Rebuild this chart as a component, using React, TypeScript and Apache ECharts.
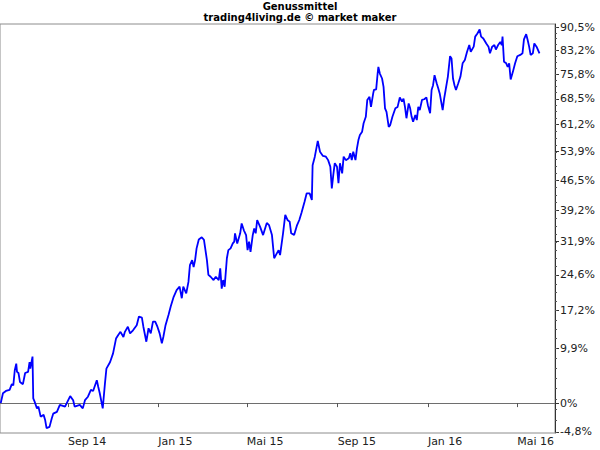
import React, { useEffect, useRef } from "react";
import * as echarts from "echarts";

const dates: string[] = [
  "2014-06-02","2014-06-05","2014-06-09","2014-06-14","2014-06-17","2014-06-19","2014-06-21","2014-06-23","2014-06-24","2014-06-26","2014-06-28",
  "2014-07-02","2014-07-05","2014-07-09","2014-07-11","2014-07-12","2014-07-15","2014-07-16","2014-07-18","2014-07-21","2014-07-23","2014-07-26","2014-07-30",
  "2014-08-01","2014-08-03","2014-08-07","2014-08-10","2014-08-12","2014-08-17","2014-08-21","2014-08-28",
  "2014-09-04","2014-09-08","2014-09-10","2014-09-17","2014-09-21","2014-09-24","2014-09-28",
  "2014-10-02","2014-10-05","2014-10-10","2014-10-12","2014-10-14","2014-10-18","2014-10-21","2014-10-23","2014-10-28",
  "2014-11-01","2014-11-05","2014-11-08","2014-11-11","2014-11-15","2014-11-17","2014-11-21","2014-11-24","2014-11-28",
  "2014-12-03","2014-12-06","2014-12-10","2014-12-12","2014-12-16","2014-12-19","2014-12-22","2014-12-25","2014-12-28","2014-12-31",
  "2015-01-03","2015-01-06","2015-01-08","2015-01-11","2015-01-15","2015-01-18","2015-01-22","2015-01-26","2015-01-30",
  "2015-02-02","2015-02-04","2015-02-08","2015-02-11","2015-02-13","2015-02-16","2015-02-18","2015-02-20","2015-02-22","2015-02-25",
  "2015-03-01","2015-03-04","2015-03-08","2015-03-10","2015-03-13","2015-03-17","2015-03-20","2015-03-24","2015-03-26","2015-03-28","2015-03-30",
  "2015-04-01","2015-04-04","2015-04-06","2015-04-09","2015-04-12","2015-04-14","2015-04-15","2015-04-18","2015-04-22","2015-04-24","2015-04-27","2015-04-30",
  "2015-05-02","2015-05-04","2015-05-06","2015-05-09","2015-05-11","2015-05-13","2015-05-15","2015-05-19","2015-05-23","2015-05-28","2015-05-31",
  "2015-06-04","2015-06-07","2015-06-10","2015-06-13","2015-06-15","2015-06-19","2015-06-22","2015-06-25","2015-06-28","2015-06-30",
  "2015-07-04","2015-07-08","2015-07-11","2015-07-14","2015-07-18","2015-07-21","2015-07-25","2015-07-28","2015-07-29",
  "2015-08-01","2015-08-05","2015-08-08","2015-08-12","2015-08-16","2015-08-19","2015-08-22","2015-08-24","2015-08-26","2015-08-28","2015-08-31",
  "2015-09-02","2015-09-04","2015-09-07","2015-09-09","2015-09-12","2015-09-16","2015-09-18","2015-09-20","2015-09-22","2015-09-25","2015-09-27","2015-09-29",
  "2015-10-01","2015-10-04","2015-10-06","2015-10-09","2015-10-11","2015-10-14","2015-10-16","2015-10-19","2015-10-20","2015-10-23","2015-10-25","2015-10-26","2015-10-28","2015-10-31",
  "2015-11-02","2015-11-04","2015-11-06","2015-11-09","2015-11-11","2015-11-14","2015-11-18","2015-11-21","2015-11-24","2015-11-27","2015-11-29",
  "2015-12-01","2015-12-03","2015-12-06","2015-12-08","2015-12-10","2015-12-12","2015-12-15","2015-12-17","2015-12-19","2015-12-21","2015-12-24","2015-12-27","2015-12-30",
  "2016-01-01","2016-01-04","2016-01-06","2016-01-08","2016-01-10","2016-01-13","2016-01-15","2016-01-17","2016-01-21","2016-01-23","2016-01-25","2016-01-28","2016-01-31",
  "2016-02-02","2016-02-04","2016-02-06","2016-02-08","2016-02-11","2016-02-14","2016-02-17","2016-02-20","2016-02-23","2016-02-26","2016-02-28",
  "2016-03-03","2016-03-05","2016-03-08","2016-03-11","2016-03-13","2016-03-16","2016-03-20","2016-03-23","2016-03-25","2016-03-28","2016-03-31",
  "2016-04-02","2016-04-05","2016-04-08","2016-04-10","2016-04-11","2016-04-13","2016-04-16","2016-04-18","2016-04-20","2016-04-22","2016-04-25","2016-04-28",
  "2016-05-01","2016-05-05","2016-05-08","2016-05-10","2016-05-13","2016-05-15","2016-05-17","2016-05-19","2016-05-22","2016-05-24","2016-05-27","2016-05-31",
];

// performance in percent
const perf: number[] = [
  0.0,1.7,2.1,2.3,3.3,3.1,5.8,7.0,5.5,5.3,3.7,
  3.3,5.3,5.5,7.3,6.1,8.3,0.8,0.2,-0.9,-0.6,-2.3,-2.0,
  -2.8,-4.2,-4.0,-2.6,-1.8,-1.5,-0.3,-0.6,
  1.2,0.5,-0.6,-0.3,-0.9,0.5,1.1,
  2.3,2.1,4.0,2.8,1.7,-0.9,3.4,6.1,7.3,
  8.9,11.7,12.4,13.0,12.0,13.0,14.0,12.7,13.3,
  14.3,16.0,15.8,14.0,11.1,13.7,12.7,15.0,15.0,14.0,
  12.7,10.8,12.0,14.3,16.3,18.0,20.0,21.4,22.1,
  19.7,22.1,20.7,23.1,26.7,27.8,26.3,27.8,30.4,32.4,
  32.9,32.3,27.8,24.6,24.2,23.5,24.2,23.5,26.0,21.7,23.5,
  22.1,28.2,30.0,30.4,31.5,31.9,33.8,31.5,33.8,36.1,34.5,33.4,
  30.0,31.9,29.6,33.4,34.9,33.8,36.9,35.3,33.4,36.2,35.7,
  33.4,28.2,29.1,30.0,28.9,33.8,38.1,36.9,36.5,33.8,
  33.4,35.7,36.9,38.6,41.2,43.3,43.3,41.7,50.4,
  52.6,56.8,53.9,52.8,52.6,51.7,50.0,44.5,47.9,50.9,50.0,
  45.8,50.9,48.3,52.6,51.7,52.2,53.5,51.7,53.9,51.7,54.8,57.0,
  58.4,59.3,61.6,63.4,68.2,69.1,66.2,70.1,71.1,71.3,76.0,78.0,76.0,74.5,
  72.0,65.8,64.8,60.6,61.1,63.4,65.8,66.2,68.9,67.7,68.6,
  66.2,63.0,67.2,65.8,63.4,62.0,63.9,62.5,66.2,65.3,68.2,68.4,68.9,
  66.7,64.4,71.1,72.5,75.5,73.0,71.6,70.1,65.3,68.6,71.1,75.0,81.3,
  80.6,74.5,72.5,71.1,73.0,75.0,79.1,80.1,82.7,84.8,82.7,
  84.3,87.5,88.5,89.8,87.5,86.9,85.3,84.3,82.2,84.3,84.8,
  83.4,84.8,85.8,84.8,87.5,79.6,79.1,78.0,79.1,74.2,76.5,79.1,
  81.3,81.7,82.2,86.6,88.3,86.4,84.3,81.7,82.2,85.3,84.3,82.2,
];

const titleText = "Genussmittel";
const subtitleText = "trading4living.de © market maker";

const xTickDates: string[] = ["2014-09-01","2015-01-01","2015-05-01","2015-09-01","2016-01-01","2016-05-01"];
const xTickLabels: string[] = ["Sep 14","Jan 15","Mai 15","Sep 15","Jan 16","Mai 16"];

const yTicks: number[] = [90.5, 83.2, 75.8, 68.5, 61.2, 53.9, 46.5, 39.2, 31.9, 24.6, 17.2, 9.9, 0, -4.8];
const yTickLabels: string[] = ["90,5%","83,2%","75,8%","68,5%","61,2%","53,9%","46,5%","39,2%","31,9%","24,6%","17,2%","9,9%","0%","-4,8%"];

const xStart = "2014-06-01";
const xEnd = "2016-06-21";
const yMinPct = -5.0;
const yMaxPct = 91.6;

const toTs = (s: string) => {
  const [y, m, d] = s.split("-").map(Number);
  return Date.UTC(y, m - 1, d);
};
const toL = (p: number) => Math.log(1 + p / 100);

const nearestIdx = (arr: number[], v: number) => {
  let best = 0;
  let bd = Infinity;
  arr.forEach((a, i) => {
    const d = Math.abs(a - v);
    if (d < bd) { bd = d; best = i; }
  });
  return best;
};

export default function App() {
  const ref = useRef<HTMLDivElement>(null);
  useEffect(() => {
    if (!ref.current) return;
    const chart = echarts.init(ref.current, undefined, { renderer: "svg" });
    const font = "DejaVu Sans";
    const xTickTs = xTickDates.map(toTs);
    const yTickL = yTicks.map(toL);
    const minorPct: number[] = [];
    for (let k = 0; k <= 52; k++) minorPct.push(-4.8 + (k * 7.3333) / 4);
    const minorL = minorPct.map(toL);
    chart.setOption({
      animation: false,
      backgroundColor: "#ffffff",
      title: {
        text: titleText,
        subtext: subtitleText,
        left: "center",
        top: 1,
        padding: 0,
        itemGap: 0,
        textStyle: { fontFamily: font, fontSize: 10, fontWeight: "bold", color: "#000", lineHeight: 11 },
        subtextStyle: { fontFamily: font, fontSize: 10, fontWeight: "bold", color: "#000", lineHeight: 11 },
      },
      grid: {
        left: 0,
        right: 45,
        top: 24,
        bottom: 17,
        show: true,
        borderColor: "#8c8c8c",
        borderWidth: 1,
        backgroundColor: "transparent",
      },
      xAxis: {
        type: "value",
        min: toTs(xStart),
        max: toTs(xEnd),
        axisLine: { show: true, lineStyle: { color: "#6e6e6e", width: 1 } },
        axisTick: { show: true, customValues: xTickTs, length: 4, lineStyle: { color: "#555" } },
        axisLabel: {
          show: true,
          customValues: xTickTs,
          formatter: (v: number) => xTickLabels[nearestIdx(xTickTs, v)],
          align: "left",
          margin: 3,
          fontFamily: font,
          fontSize: 11,
          color: "#222",
        },
        splitLine: { show: false },
      },
      yAxis: [
        {
          type: "value",
          position: "right",
          min: toL(yMinPct),
          max: toL(yMaxPct),
          axisLine: { show: true, lineStyle: { color: "#333", width: 1 } },
          axisTick: { show: true, customValues: yTickL, length: 4, lineStyle: { color: "#333" } },
          axisLabel: {
            show: true,
            customValues: yTickL,
            formatter: (v: number) => yTickLabels[nearestIdx(yTickL, v)],
            margin: 5,
            fontFamily: font,
            fontSize: 11,
            color: "#222",
          },
          splitLine: { show: false },
        },
        {
          type: "value",
          position: "right",
          min: toL(yMinPct),
          max: toL(yMaxPct),
          axisLine: { show: false },
          axisTick: { show: true, customValues: minorL, length: 2, lineStyle: { color: "#555" } },
          axisLabel: { show: false },
          splitLine: { show: false },
        },
      ],
      series: [
        {
          type: "line",
          yAxisIndex: 0,
          showSymbol: false,
          symbol: "none",
          lineStyle: { color: "#0000ff", width: 1.8 },
          data: dates.map((d, i) => [toTs(d), toL(perf[i])]),
        },
      ],
    });
    return () => chart.dispose();
  }, []);
  return (
    <div
      ref={ref}
      style={{ position: "fixed", left: 0, top: 0, width: 600, height: 450, background: "#fff" }}
    />
  );
}
